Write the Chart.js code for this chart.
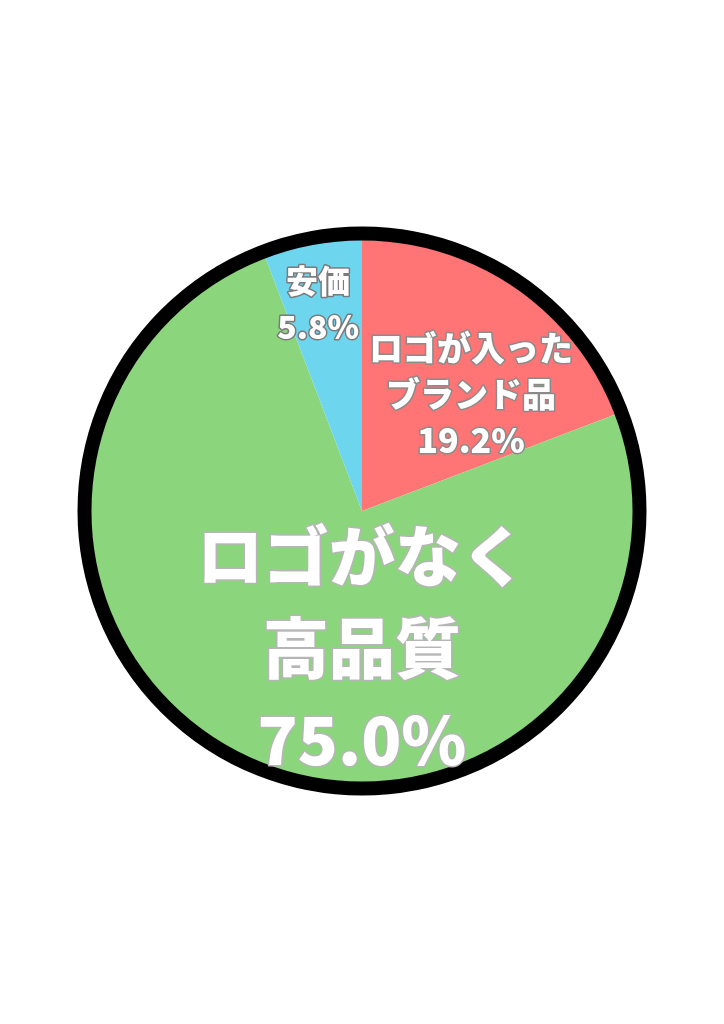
<!DOCTYPE html>
<html>
<head>
<meta charset="utf-8">
<script src="https://cdn.jsdelivr.net/npm/chart.js@4"></script>
<style>
html,body{margin:0;padding:0;background:#fff;}
#wrap{width:724px;height:1024px;position:relative;}
</style>
</head>
<body>
<div id="wrap"><canvas id="c" width="724" height="1024"></canvas></div>
<script>
const categories = ['ロゴが入ったブランド品', 'ロゴがなく高品質', '安価'];
const values = [19.2, 75.0, 5.8];
const labelLines = [['ロゴが入った', 'ブランド品', '19.2%'], ['ロゴがなく', '高品質', '75.0%'], ['安価', '5.8%']];
const colors = ['#ff7474', '#8bd67d', '#6dd5ee'];

// label placement: angle (deg clockwise from top), radius fraction, font size, line height
const labelPlace = [
  {angle: 43, rf: 0.59, size: 34, lh: 46, stroke: '#8a8a8a'},
  {angle: 180, rf: 0.505, size: 66, lh: 92, stroke: '#b5b5b5'},
  {angle: -12, rf: 0.78, size: 32, lh: 46, stroke: '#7a7a7a'}
];

const ringPlugin = {
  id: 'ringAndLabels',
  afterDatasetsDraw(chart) {
    const ctx = chart.ctx;
    const meta = chart.getDatasetMeta(0);
    const arc0 = meta.data[0];
    const cx = arc0.x, cy = arc0.y, r = arc0.outerRadius;
    ctx.save();
    ctx.beginPath();
    ctx.arc(cx, cy, r + 6.5, 0, Math.PI * 2);
    ctx.lineWidth = 14;
    ctx.strokeStyle = '#000';
    ctx.stroke();
    ctx.textAlign = 'center';
    ctx.textBaseline = 'middle';
    ctx.lineJoin = 'round';
    meta.data.forEach((arc, i) => {
      const p = labelPlace[i];
      const a = p.angle * Math.PI / 180;
      const lx = cx + Math.sin(a) * r * p.rf;
      const ly = cy - Math.cos(a) * r * p.rf;
      const lines = labelLines[i];
      ctx.font = '900 ' + p.size + 'px "Noto Sans CJK JP", "Noto Sans", sans-serif';
      const startY = ly - (lines.length - 1) * p.lh / 2;
      lines.forEach((t, j) => {
        const y = startY + j * p.lh;
        ctx.lineWidth = 3;
        ctx.strokeStyle = p.stroke;
        ctx.strokeText(t, lx, y);
        ctx.fillStyle = '#fff';
        ctx.fillText(t, lx, y);
      });
    });
    ctx.restore();
  }
};

new Chart(document.getElementById('c'), {
  type: 'pie',
  data: {
    labels: categories,
    datasets: [{
      data: values,
      backgroundColor: colors,
      borderWidth: 0
    }]
  },
  options: {
    responsive: false,
    animation: false,
    layout: {padding: {left: 91, right: 91, top: 240, bottom: 242}},
    plugins: {legend: {display: false}, tooltip: {enabled: false}}
  },
  plugins: [ringPlugin]
});
</script>
</body>
</html>
